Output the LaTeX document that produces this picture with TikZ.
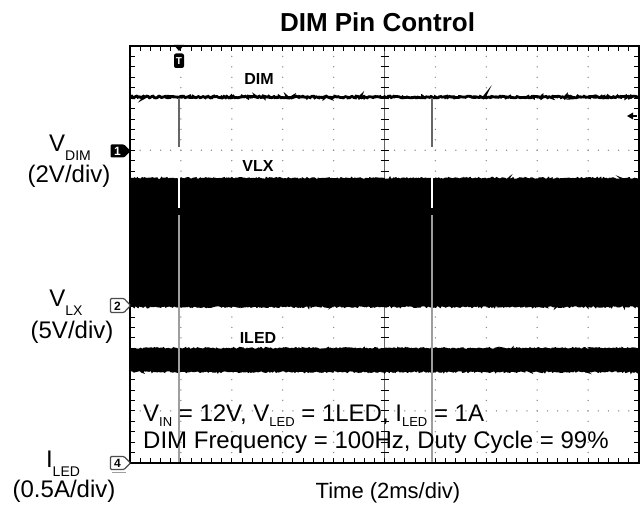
\documentclass[tikz,border=0pt]{standalone}
\usepackage{fontspec}
\setmainfont{Liberation Sans}
\usetikzlibrary{decorations.pathmorphing}
\newcommand{\lsub}[1]{\raisebox{-9bp}{\fontsize{14bp}{14bp}\selectfont #1}}
\newcommand{\ssub}[1]{\raisebox{-5bp}{\fontsize{13bp}{13bp}\selectfont #1}}
\definecolor{gridc}{gray}{0.55}
\definecolor{dipc}{gray}{0.4}
\definecolor{gapc}{gray}{0.62}
\tikzset{
  txt/.style={inner sep=0pt, anchor=base},
  bigtxt/.style={txt, font=\fontsize{24bp}{24bp}\selectfont},
  trlabel/.style={txt, font=\bfseries\fontsize{16bp}{16bp}\selectfont},
  noisy/.style={decorate, decoration={random steps, segment length=1.2pt, amplitude=0.9pt}},
  tick/.style={line width=0.9bp, black},
  mk/.style={inner sep=0pt, font=\bfseries\fontsize{12bp}{12bp}\selectfont}
}
\begin{document}
\begin{tikzpicture}[x=1bp,y=-1bp]
\useasboundingbox (0,0) rectangle (644,510);
\fill[white] (0,0) rectangle (644,510);
% grid dots
\foreach \i in {1,2,3,4,6,7,8,9}{
  \foreach \k in {1,...,39}{
    \fill[gridc] ({130+\i*50.9},{46+\k*10.425}) circle (0.75);
  }
}
\foreach \j in {1,2,3,5,6,7}{
  \foreach \k in {1,...,49}{
    \fill[gridc] ({130+\k*10.18},{46+\j*52.125}) circle (0.75);
  }
}
% centre axes with ticks
\draw[line width=1bp, black!60] (384.5,46) -- (384.5,463);
\draw[line width=1bp, black!60] (130,254.5) -- (639,254.5);
\foreach \k in {1,...,39}{
  \draw[tick] (380.5,{46+\k*10.425}) -- (388.5,{46+\k*10.425});
}
\foreach \k in {1,...,49}{
  \draw[tick] ({130+\k*10.18},250.5) -- ({130+\k*10.18},258.5);
}
% frame ticks
\foreach \k in {1,...,49}{
  \draw[tick] ({130+\k*10.18},46) -- ({130+\k*10.18},51);
  \draw[tick] ({130+\k*10.18},463) -- ({130+\k*10.18},458);
}
\foreach \k in {1,...,39}{
  \draw[tick] (130,{46+\k*10.425}) -- (135,{46+\k*10.425});
  \draw[tick] (639,{46+\k*10.425}) -- (634,{46+\k*10.425});
}
% DIM trace
\draw[line width=2.8bp, noisy] (130,97) -- (639,97);
\draw[dipc, line width=2.6bp] (179,98) -- (179,147);
\draw[dipc, line width=2.6bp] (432,98) -- (432,147);
% VLX band
\fill[black] (130,179) rectangle (639,306);
\draw[line width=2bp, noisy] (130,179) -- (639,179);
\draw[line width=2bp, noisy] (130,306) -- (639,306);
% ILED band
\fill[black] (130,349) rectangle (639,371);
\draw[line width=2bp, noisy] (130,349) -- (639,349);
\draw[line width=2bp, noisy] (130,371) -- (639,371);
% gaps in the switching
\draw[white, line width=2.6bp] (179,177) -- (179,208);
\draw[gapc, line width=2.6bp] (179,215) -- (179,463);
\draw[white, line width=2.6bp] (432,177) -- (432,208);
\draw[gapc, line width=2.6bp] (432,215) -- (432,463);
% frame
\draw[line width=2bp] (130,46) rectangle (639,463);
% trigger marker
\fill (174,45) -- (184,45) -- (179,51) -- cycle;
\fill[rounded corners=2bp] (174,53.5) rectangle (184,68);
\node[mk, white, font=\bfseries\fontsize{10bp}{10bp}\selectfont] (trig) at (179,61) {T};
% right marker arrow
\fill (627,116) -- (633,112.5) -- (633,119.5) -- cycle;
\draw[line width=1.2bp] (632,116) -- (637,116);
% channel markers
\fill[rounded corners=1bp] (110.5,144.5) -- (124,144.5) -- (130.5,151) -- (124,157.5) -- (110.5,157.5) -- cycle;
\node[mk, white] (m1) at (117.5,151.5) {1};
\draw[line width=1.2bp, rounded corners=1bp, black!70] (110.5,298.5) -- (124,298.5) -- (130.5,305.5) -- (124,312.5) -- (110.5,312.5) -- cycle;
\node[mk] (m2) at (117.5,306) {2};
\draw[line width=1.2bp, rounded corners=1bp, black!70] (110.5,456.5) -- (124,456.5) -- (130.5,463) -- (124,469.5) -- (110.5,469.5) -- cycle;
\node[mk] (m4) at (117.5,463.5) {4};
\draw[gapc, line width=1bp] (112,472.5) -- (126,472.5);
% trace labels
\node[trlabel] (ldim) at (259,85) {DIM};
\node[trlabel] (lvlx) at (258,172) {VLX};
\node[trlabel] (liled) at (258,343) {ILED};
% left axis labels
\node[bigtxt] (vdim) at (70,152) {V\lsub{DIM}};
\node[bigtxt] (sdim) at (69,183) {(2V/div)};
\node[bigtxt] (vlx) at (66,306) {V\lsub{LX}};
\node[bigtxt] (slx) at (72,338) {(5V/div)};
\node[bigtxt] (iled) at (63,467) {I\lsub{LED}};
\node[bigtxt] (sled) at (64,497) {(0.5A/div)};
% conditions
\node[bigtxt, anchor=base west] (cond1) at (143,421) {V\ssub{IN} = 12V, V\ssub{LED} = 1LED, I\ssub{LED} = 1A};
\node[bigtxt, anchor=base west] (cond2) at (143,448) {DIM Frequency = 100Hz, Duty Cycle = 99\%};
% title and time axis
\node[txt, font=\bfseries\fontsize{26bp}{26bp}\selectfont] (title) at (377.5,32) {DIM Pin Control};
\node[txt, font=\fontsize{22bp}{22bp}\selectfont] (time) at (388,498) {Time (2ms/div)};
\end{tikzpicture}
\end{document}
